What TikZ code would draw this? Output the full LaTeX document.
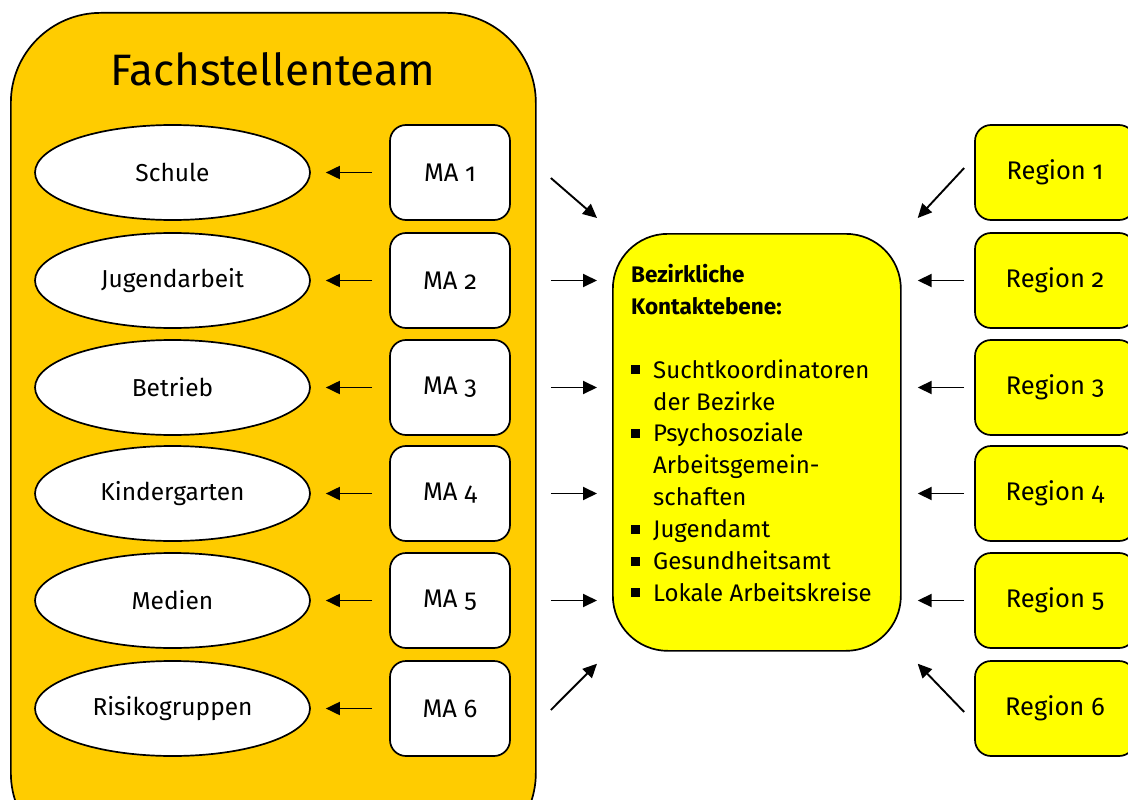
\documentclass[tikz,border=0pt]{standalone}
\usepackage{fontspec}
\setmainfont{Fira Sans}[Numbers=OldStyle]
\usetikzlibrary{shapes.geometric,arrows.meta,calc}
\definecolor{teamorange}{HTML}{FFCC00}
\definecolor{kbyellow}{HTML}{FFFF00}
\newcommand\kbbullet{\makebox[22pt][l]{\rule[4pt]{9pt}{9pt}}}
\newcommand\kbindent{\hspace*{22pt}}
\begin{document}
\begin{tikzpicture}[x=1pt,y=-1pt,
  teambox/.style={draw, line width=1.7pt, fill=teamorange, rounded corners=90pt, minimum width=525pt, minimum height=850pt, inner sep=0pt},
  area/.style={draw, line width=1.7pt, fill=white, ellipse, minimum width=275pt, minimum height=95pt, inner sep=0pt, font=\fontsize{24.5}{28}\selectfont},
  mabox/.style={draw, line width=1.7pt, fill=white, rounded corners=16pt, minimum width=120pt, minimum height=95pt, inner sep=0pt, font=\fontsize{25.5}{29}\selectfont},
  regbox/.style={mabox, fill=kbyellow, minimum width=160pt},
  kbbox/.style={draw, line width=1.7pt, fill=kbyellow, rounded corners=55pt, minimum width=288pt, minimum height=417pt, inner sep=0pt},
  arr/.style={line width=1.9pt, -{Triangle[length=14pt,width=13pt]}},
]
\useasboundingbox (0,0) rectangle (1128,800);
\clip (0,0) rectangle (1128,800);

\node[teambox, anchor=north west] (team) at (10,12) {};
\node[font=\fontsize{44}{50}\selectfont] (title) at (273,69) {Fachstellenteam};

\foreach \i/\y/\lab in {1/172.5/Schule, 2/280.5/Jugendarbeit, 3/387.5/Betrieb, 4/493.5/Kindergarten, 5/600.5/Medien, 6/708.5/Risikogruppen}{
  \node[area] (e\i) at (172.5,\y) {\lab};
  \node[mabox] (m\i) at (450,\y) {MA \i};
  \node[regbox] (r\i) at (1055,\y) {Region \i};
  \draw[arr, shorten <=17pt, shorten >=15pt] (m\i.west) -- (e\i.east);
}

\node[kbbox, anchor=north west] (kb) at (612,233) {};
\node[anchor=north west, inner sep=0pt, align=left, font=\fontsize{24}{31.9}\selectfont] (kbt) at (631,264)
 {{\bfseries\fontsize{22.5}{31.9}\selectfont Bezirkliche}\\
  {\bfseries\fontsize{22.5}{31.9}\selectfont Kontaktebene:}\\[31.9pt]
  \kbbullet Suchtkoordinatoren\\
  \kbindent der Bezirke\\
  \kbbullet Psychosoziale\\
  \kbindent Arbeitsgemein-\\
  \kbindent schaften\\
  \kbbullet Jugendamt\\
  \kbbullet Gesundheitsamt\\
  \kbbullet Lokale Arbeitskreise};

\foreach \i in {2,3,4,5}{
  \draw[arr, shorten <=40pt, shorten >=15pt] (m\i.east) -- (m\i.east -| kb.west);
  \draw[arr, shorten <=10pt, shorten >=16pt] (r\i.west) -- (r\i.west -| kb.east);
}
\draw[arr] ($(m1.east)+(40,5.5)$) -- ($(kb.north west)+(-15,-15)$);
\draw[arr] ($(m6.east)+(40,1.5)$) -- ($(kb.south west)+(-15,12)$);
\draw[arr] ($(r1.west)+(-10,-4.5)$) -- ($(kb.north east)+(16,-15)$);
\draw[arr] ($(r6.west)+(-10,3.5)$) -- ($(kb.south east)+(16,12)$);
\end{tikzpicture}
\end{document}
